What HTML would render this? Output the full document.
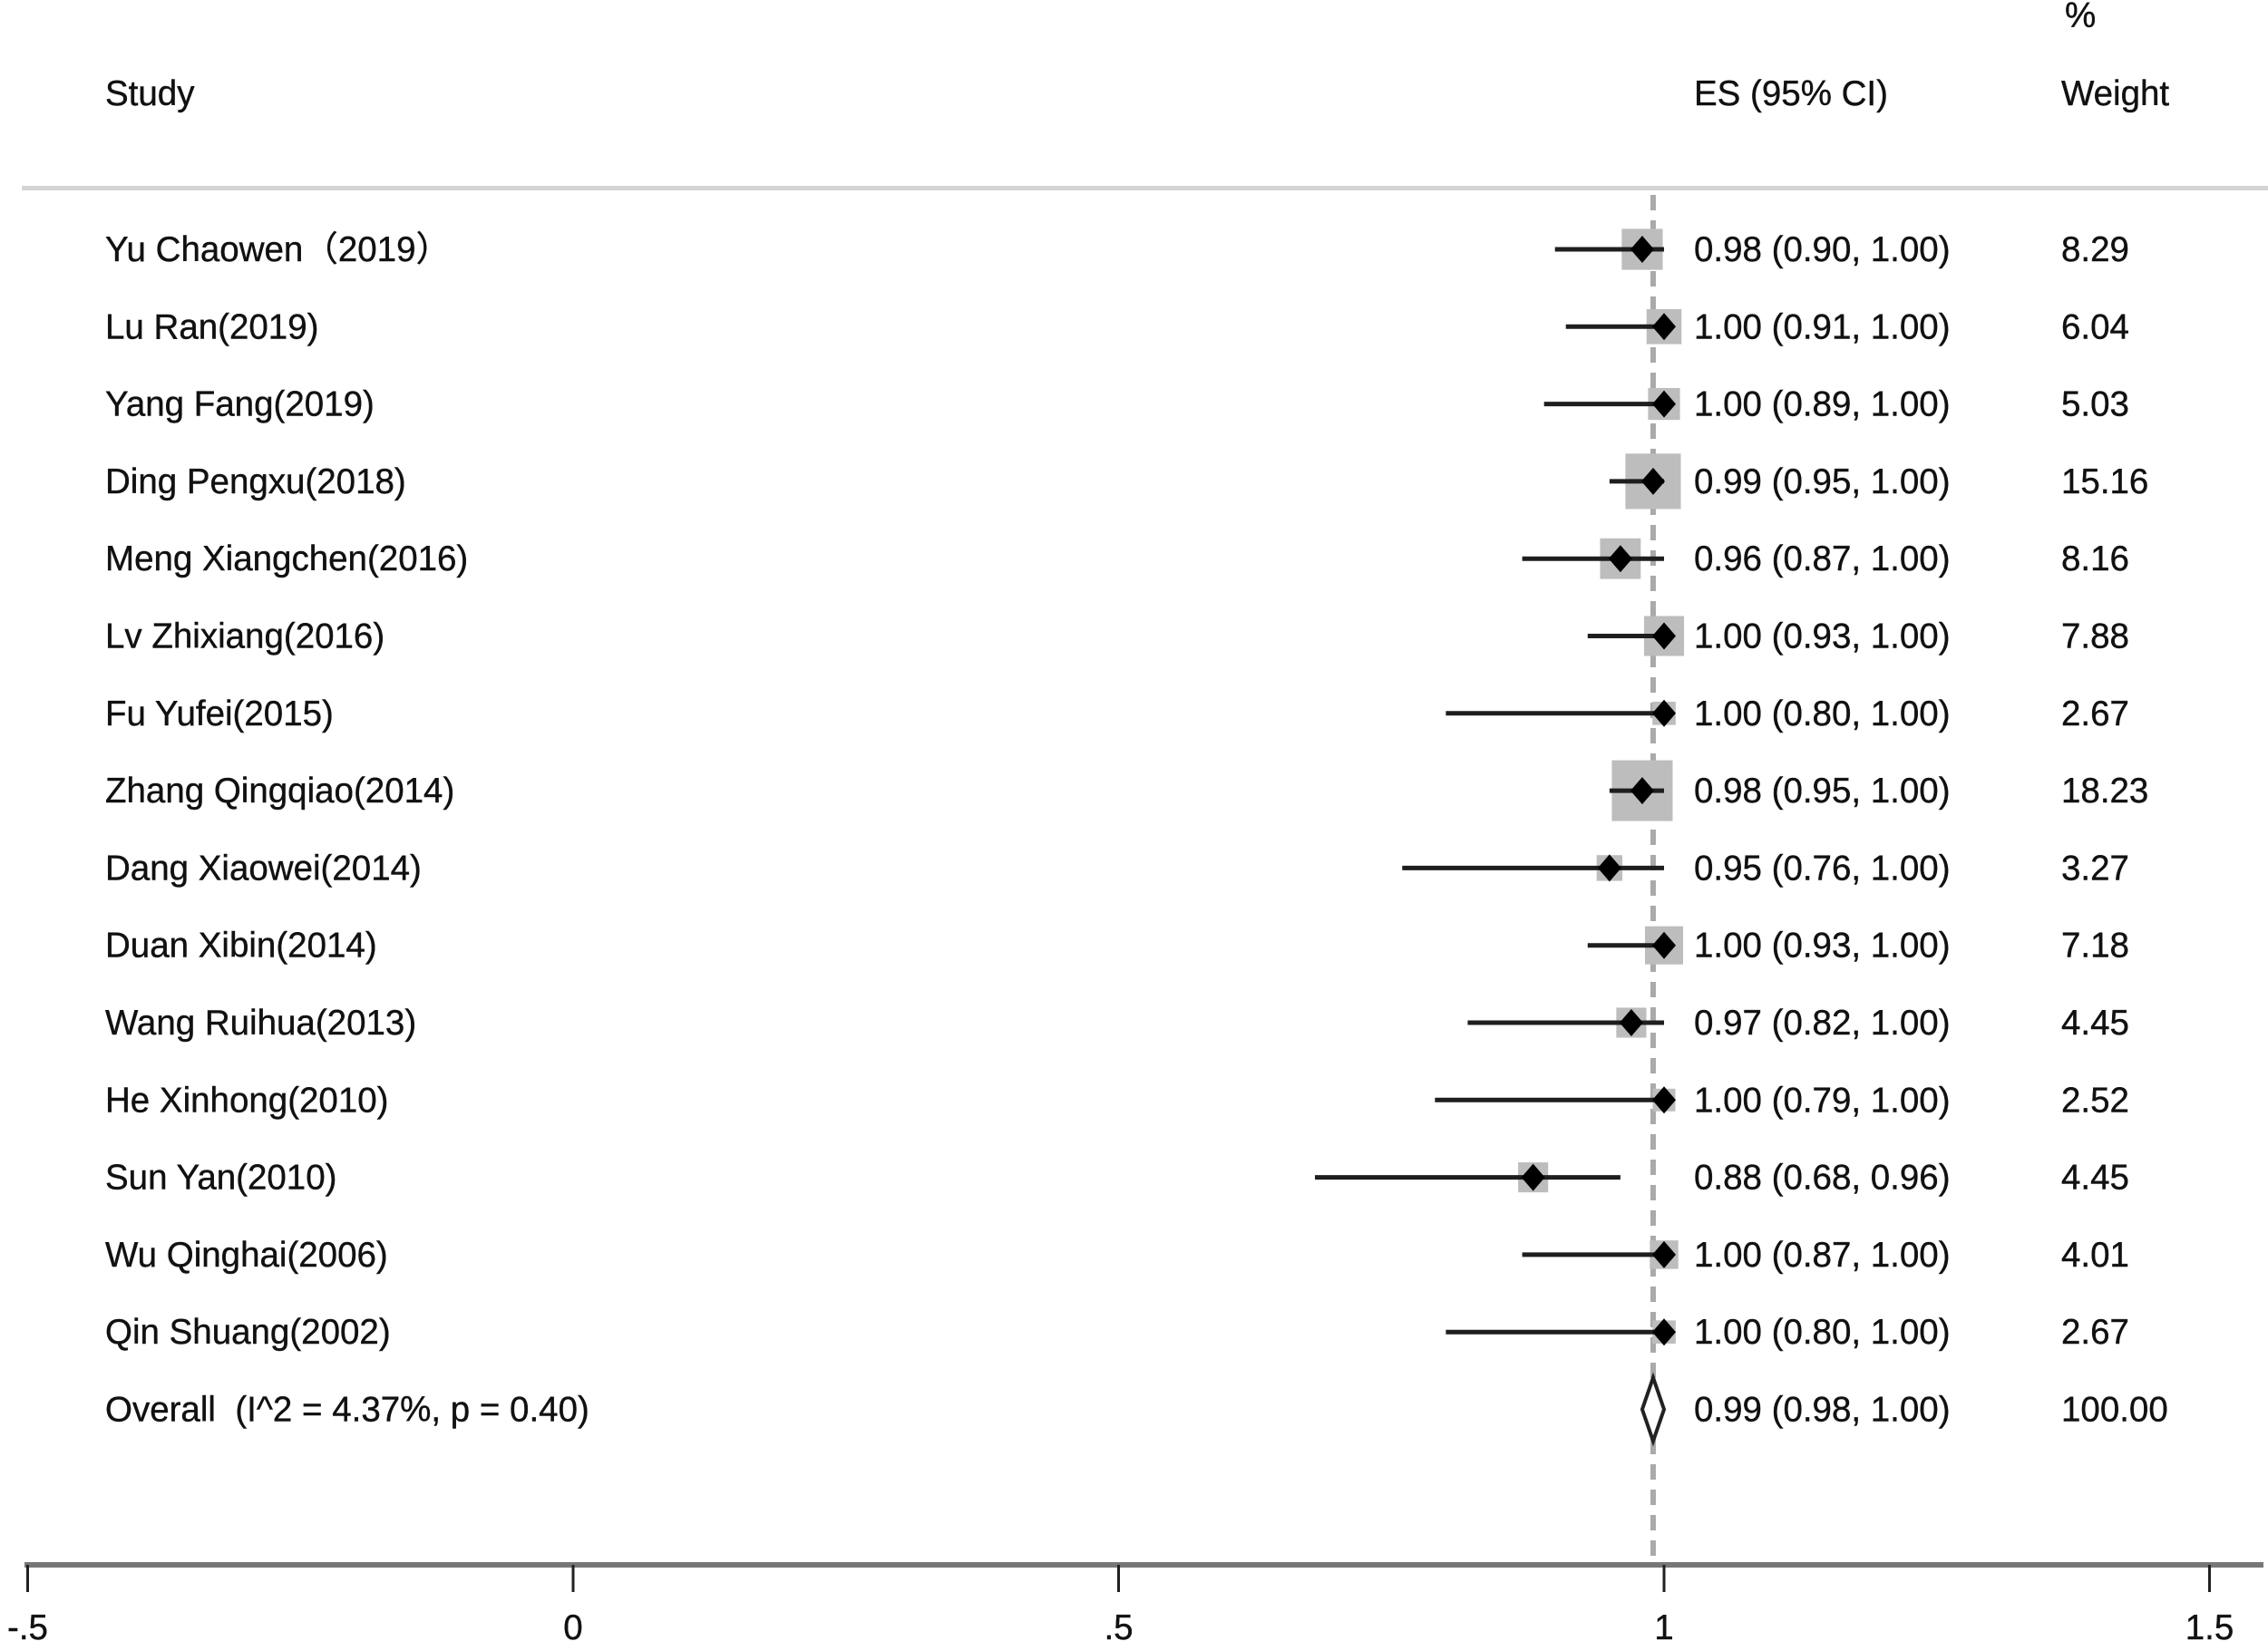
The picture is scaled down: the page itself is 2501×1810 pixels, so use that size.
<!DOCTYPE html>
<html><head><meta charset="utf-8">
<style>
html,body{margin:0;padding:0;background:#fff;}
svg{display:block;}
text{font-family:"Liberation Sans","Noto Sans CJK SC",sans-serif;fill:#111;stroke:#111;stroke-width:0.4;white-space:pre;}
</style></head>
<body>
<svg id="chart" width="2501" height="1810" viewBox="0 0 2501 1810" xmlns="http://www.w3.org/2000/svg" xml:space="preserve">
<text x="116" y="116" font-size="38.5">Study</text>
<text x="1868" y="116" font-size="38.5">ES (95% CI)</text>
<text x="2277" y="30" font-size="38.5">%</text>
<text x="2273" y="116" font-size="38.5">Weight</text>
<rect x="24" y="205" width="2477" height="5" fill="#d4d4d4"/>
</svg>
<script>
const studies = ["Yu Chaowen（2019）","Lu Ran(2019)","Yang Fang(2019)","Ding Pengxu(2018)","Meng Xiangchen(2016)","Lv Zhixiang(2016)","Fu Yufei(2015)","Zhang Qingqiao(2014)","Dang Xiaowei(2014)","Duan Xibin(2014)","Wang Ruihua(2013)","He Xinhong(2010)","Sun Yan(2010)","Wu Qinghai(2006)","Qin Shuang(2002)"];
const es = [0.98,1.00,1.00,0.99,0.96,1.00,1.00,0.98,0.95,1.00,0.97,1.00,0.88,1.00,1.00];
const lo = [0.90,0.91,0.89,0.95,0.87,0.93,0.80,0.95,0.76,0.93,0.82,0.79,0.68,0.87,0.80];
const hi = [1.00,1.00,1.00,1.00,1.00,1.00,1.00,1.00,1.00,1.00,1.00,1.00,0.96,1.00,1.00];
const weights = [8.29,6.04,5.03,15.16,8.16,7.88,2.67,18.23,3.27,7.18,4.45,2.52,4.45,4.01,2.67];
const overallEs = 0.99, overallLo = 0.98, overallHi = 1.00;
const overallLabel = "Overall  (I^2 = 4.37%, p = 0.40)";
const xTicks = [-0.5, 0, 0.5, 1, 1.5];
const xTickLabels = ["-.5","0",".5","1","1.5"];

const NS="http://www.w3.org/2000/svg";
const svg=document.getElementById('chart');
const xs = v => 632 + v*1203;
const rowY = i => 275 + i*85.3;
const f2 = v => v.toFixed(2);
const FS = 38.5;
function mk(tag, attrs){const e=document.createElementNS(NS,tag);for(const k in attrs)e.setAttribute(k,attrs[k]);svg.appendChild(e);return e;}

const overallY = rowY(studies.length);
let ref = mk('line',{x1:xs(overallEs),x2:xs(overallEs),y1:215,y2:1726,stroke:'#aaa','stroke-width':6,'stroke-dasharray':'17 11'});



studies.forEach((s,i)=>{
  const y=rowY(i);
  const sz=15.7*Math.sqrt(weights[i]);
  const box=mk('rect',{x:xs(es[i])-sz/2,y:y-sz/2,width:sz,height:sz,fill:'#bdbdbd'});
  
  
  const ci=mk('line',{x1:xs(lo[i]),x2:xs(hi[i]),y1:y,y2:y,stroke:'#1e1e1e','stroke-width':5});
  
  
  const cx=xs(es[i]);
  const d=mk('polygon',{points:`${cx-13},${y} ${cx},${y-15} ${cx+13},${y} ${cx},${y+15}`,fill:'#000'});
  
  
  const t=mk('text',{x:116,y:y+13,'font-size':FS});
  t.textContent=s;
  
  
  const e=mk('text',{x:1868,y:y+13,'font-size':FS});
  e.textContent=`${f2(es[i])} (${f2(lo[i])}, ${f2(hi[i])})`;
  
  
  const w=mk('text',{x:2273,y:y+13,'font-size':FS});
  w.textContent=f2(weights[i]);
  
  
});

const od=mk('polygon',{points:`${xs(overallLo)},${overallY} ${xs(overallEs)},${overallY-35} ${xs(overallHi)},${overallY} ${xs(overallEs)},${overallY+35}`,fill:'#fff',stroke:'#222','stroke-width':4});


const ol=mk('text',{x:116,y:overallY+13,'font-size':FS});
ol.textContent=overallLabel;


const oe=mk('text',{x:1868,y:overallY+13,'font-size':FS});
oe.textContent=`${f2(overallEs)} (${f2(overallLo)}, ${f2(overallHi)})`;


const ow=mk('text',{x:2273,y:overallY+13,'font-size':FS});
ow.textContent="100.00";



const ax=mk('rect',{x:27,y:1723,width:2469,height:6,fill:'#777'});


xTicks.forEach((v,i)=>{
  const tk=mk('line',{x1:xs(v),x2:xs(v),y1:1726,y2:1756,stroke:'#222','stroke-width':3});
  
  
  const tl=mk('text',{x:xs(v),y:1808,'font-size':FS,'text-anchor':'middle'});
  tl.textContent=xTickLabels[i];
  
  
});
</script>
</body></html>
